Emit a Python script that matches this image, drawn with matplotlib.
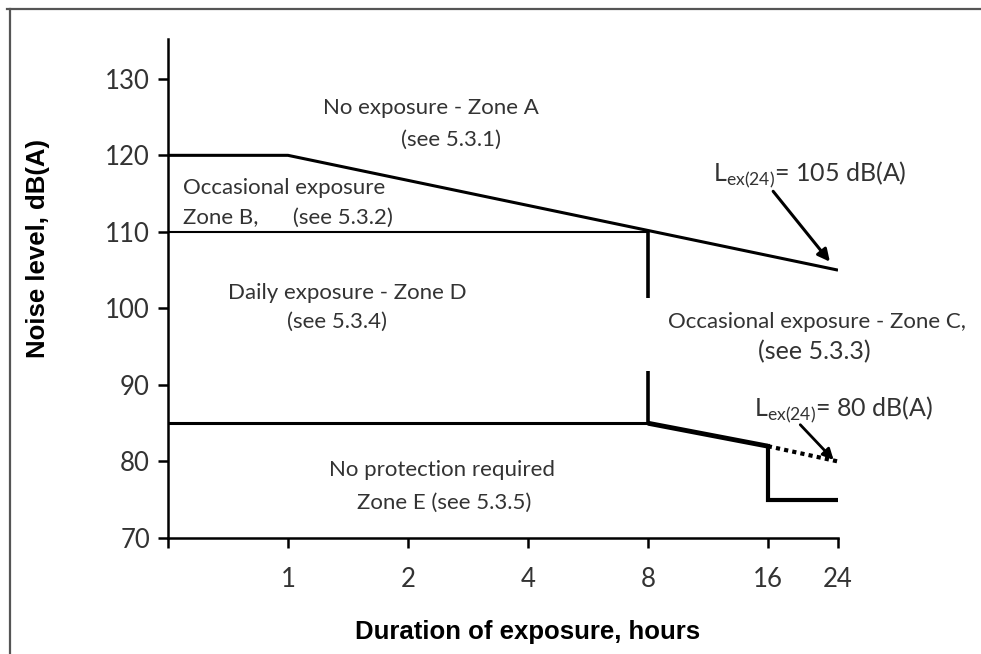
import matplotlib
matplotlib.use("Agg")
import matplotlib.pyplot as plt
from matplotlib.lines import Line2D

plt.rcParams['font.family'] = ['Lato', 'DejaVu Sans']
plt.rcParams['mathtext.fontset'] = 'custom'
plt.rcParams['mathtext.rm'] = 'Lato'

# duration ticks (hours) and noise level ticks dB(A)
hour_ticks = [0.5, 1, 2, 4, 8, 16, 24]
hour_labels = ['', '1', '2', '4', '8', '16', '24']
level_ticks = [70, 80, 90, 100, 110, 120, 130]

# zone boundaries
upper_x = [0.5, 1, 24]          # A / B,C boundary
upper_y = [120, 120, 105]
zone_b_x = [0.5, 8]             # B / D boundary
zone_b_y = [110, 110]
lower_x = [0.5, 8]              # D / E boundary
lower_y = [85, 85]
slope_x = [8, 16]
slope_y = [85, 82]
dotted_x = [16, 24]
dotted_y = [82, 80]
step_x = [16, 16, 24]
step_y = [82, 75, 75]
vert8_upper = [110, 101.4]
vert8_lower = [91.8, 85]

fig = plt.figure(figsize=(9.81, 6.54), dpi=100)
ax = fig.add_axes([168 / 981, 1 - 538 / 654, 670 / 981, 499 / 654])

ax.set_xscale('log', base=2)
ax.set_xlim(0.5, 24)
ax.set_ylim(70, 135.2)

ax.plot(upper_x, upper_y, color='black', lw=2.2, solid_capstyle='butt')
ax.plot(zone_b_x, zone_b_y, color='black', lw=1.5)
ax.plot(lower_x, lower_y, color='black', lw=2.2)
ax.plot([8, 8], vert8_upper, color='black', lw=2.6, solid_capstyle='butt')
ax.plot([8, 8], vert8_lower, color='black', lw=2.6, solid_capstyle='butt')
ax.plot(slope_x, slope_y, color='black', lw=3.5, solid_capstyle='butt')
ax.plot(dotted_x, dotted_y, color='black', lw=3.0, ls=(0, (1, 1)))
ax.plot(step_x, step_y, color='black', lw=3.0, solid_joinstyle='miter')

# axes styling
for s in ['top', 'right']:
    ax.spines[s].set_visible(False)
for s in ['left', 'bottom']:
    ax.spines[s].set_linewidth(1.8)
ax.set_xticks(hour_ticks)
ax.set_xticklabels(hour_labels)
ax.minorticks_off()
ax.set_yticks(level_ticks)
ax.tick_params(length=7, width=1.8, labelsize=18.5, colors='black',
               labelcolor='#333333', pad=6)
ax.tick_params(axis='x', pad=14)

ax.set_ylabel('Noise level, dB(A)', family='Liberation Sans', fontweight='bold', fontsize=18.5)
ax.yaxis.set_label_coords(-0.176, 0.581)
ax.set_xlabel('Duration of exposure, hours', family='Liberation Sans', fontweight='bold', fontsize=18.5)
ax.xaxis.set_label_coords(0.537, -0.164)

tc = '#333333'
fs = 16
ax.text(2.29, 126.2, 'No exposure - Zone A', ha='center', va='center', fontsize=fs, color=tc)
ax.text(2.56, 122.0, '(see 5.3.1)', ha='center', va='center', fontsize=fs, color=tc)
ax.text(0.545, 115.75, 'Occasional exposure', ha='left', va='center', fontsize=fs, color=tc)
ax.text(0.545, 111.8, 'Zone B,      (see 5.3.2)', ha='left', va='center', fontsize=fs, color=tc)
ax.text(0.707, 102.0, 'Daily exposure - Zone D', ha='left', va='center', fontsize=fs, color=tc)
ax.text(0.994, 98.2, '(see 5.3.4)', ha='left', va='center', fontsize=fs, color=tc)
ax.text(8.98, 98.2, 'Occasional exposure - Zone C,', ha='left', va='center', fontsize=fs, color=tc)
ax.text(15.1, 94.3, '(see 5.3.3)', ha='left', va='center', fontsize=18, color=tc)
ax.text(1.27, 78.9, 'No protection required', ha='left', va='center', fontsize=fs, color=tc)
ax.text(1.49, 74.6, 'Zone E (see 5.3.5)', ha='left', va='center', fontsize=fs, color=tc)
ax.text(11.65, 117.5, r'L$_{\mathrm{ex(24)}}$= 105 dB(A)', ha='left', va='center', fontsize=18, color=tc)
ax.text(14.8, 86.7, r'L$_{\mathrm{ex(24)}}$= 80 dB(A)', ha='left', va='center', fontsize=18, color=tc)

ax.annotate('', xy=(22.9, 106.1), xytext=(16.5, 115.3),
            arrowprops=dict(arrowstyle='-|>', color='black', lw=2.2, mutation_scale=18,
                            shrinkA=0, shrinkB=0))
ax.annotate('', xy=(23.4, 80.2), xytext=(19.3, 84.8),
            arrowprops=dict(arrowstyle='-|>', color='black', lw=2.0, mutation_scale=16,
                            shrinkA=0, shrinkB=0))

# picture frame (top and left edges)
fig.add_artist(Line2D([7 / 981, 1], [1 - 9 / 654] * 2, color='#555555', lw=1.6))
fig.add_artist(Line2D([10 / 981] * 2, [0, 1 - 9 / 654], color='#555555', lw=1.6))

fig.savefig('out.png', dpi=100)
